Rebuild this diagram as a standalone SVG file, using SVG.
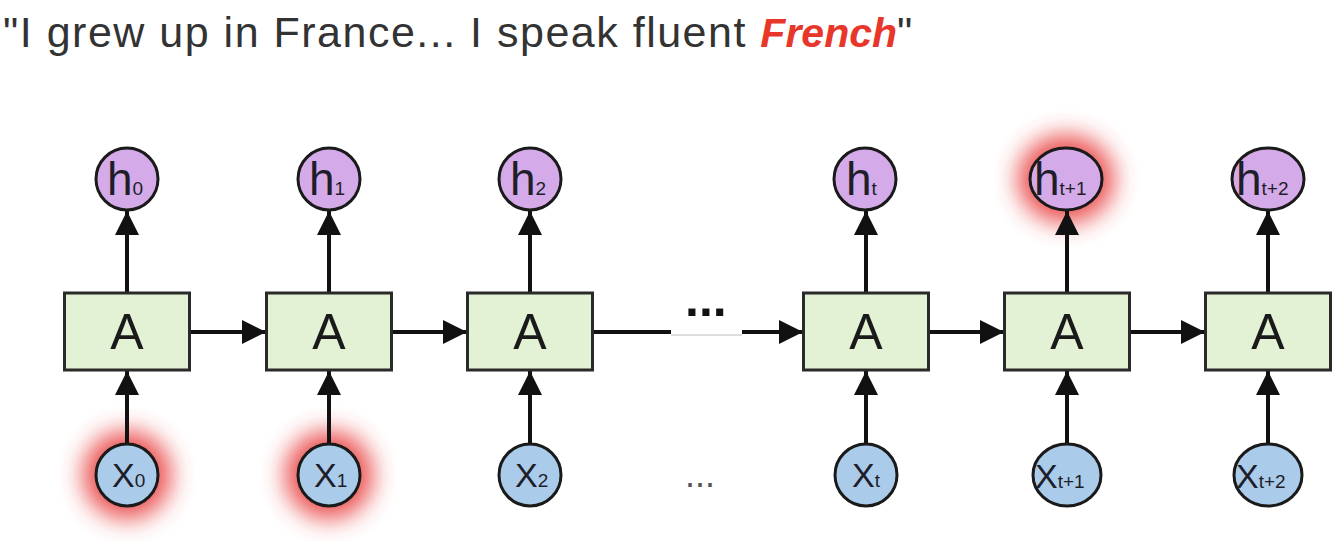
<svg xmlns="http://www.w3.org/2000/svg" width="1344" height="542" viewBox="0 0 1344 542">
<style>
.box{fill:#e3f1d4;stroke:#2a2a2a;stroke-width:3}
.hc{fill:#d4aae9;stroke:#1a1a1a;stroke-width:3}
.xc{fill:#aacbea;stroke:#1a1a1a;stroke-width:3}
.lbl{font-family:"Liberation Sans",Arial,sans-serif;fill:#1e1e2a}
.big{font-size:46px}
.sub{font-size:19px}
.A{font-family:"Liberation Sans",Arial,sans-serif;font-size:50px;fill:#1a1a1a;text-anchor:middle}
.ln{stroke:#111;stroke-width:4;fill:none}
.glow{fill:#e83a3a;filter:url(#blur);opacity:0.9}
</style>
<defs>
<filter id="blur" x="-80%" y="-80%" width="260%" height="260%"><feGaussianBlur stdDeviation="12"/></filter>
<marker id="ah" viewBox="0 0 10 10" refX="10" refY="5" markerWidth="6" markerHeight="6" markerUnits="strokeWidth" orient="auto"><path d="M0,0 L10,5 L0,10 Z" fill="#111"/></marker>
</defs>
<rect width="1344" height="542" fill="#fff"/>
<text x="3" y="47" font-family="'Liberation Sans',Arial,sans-serif" font-size="43" fill="#333" letter-spacing="1.5">"I grew up in France... I speak fluent <tspan fill="#e8372a" font-weight="bold" font-style="italic" font-size="41" letter-spacing="0">French</tspan><tspan letter-spacing="0">"</tspan></text>
<g id="glows">
<circle class="glow" cx="127" cy="475" r="44"/>
<circle class="glow" cx="329" cy="475" r="44"/>
<ellipse class="glow" cx="1066" cy="179" rx="48" ry="44"/>
</g>
<g id="connectors">
<line class="ln" x1="127" y1="293" x2="127" y2="211" marker-end="url(#ah)"/>
<line class="ln" x1="329" y1="293" x2="329" y2="211" marker-end="url(#ah)"/>
<line class="ln" x1="530" y1="293" x2="530" y2="211" marker-end="url(#ah)"/>
<line class="ln" x1="866" y1="293" x2="866" y2="211" marker-end="url(#ah)"/>
<line class="ln" x1="1067" y1="293" x2="1067" y2="211" marker-end="url(#ah)"/>
<line class="ln" x1="1268" y1="293" x2="1268" y2="211" marker-end="url(#ah)"/>
<line class="ln" x1="127" y1="444" x2="127" y2="371" marker-end="url(#ah)"/>
<line class="ln" x1="329" y1="444" x2="329" y2="371" marker-end="url(#ah)"/>
<line class="ln" x1="530" y1="444" x2="530" y2="371" marker-end="url(#ah)"/>
<line class="ln" x1="866" y1="444" x2="866" y2="371" marker-end="url(#ah)"/>
<line class="ln" x1="1067" y1="444" x2="1067" y2="371" marker-end="url(#ah)"/>
<line class="ln" x1="1268" y1="444" x2="1268" y2="371" marker-end="url(#ah)"/>
<line class="ln" x1="190" y1="332" x2="266" y2="332" marker-end="url(#ah)"/>
<line class="ln" x1="392" y1="332" x2="467" y2="332" marker-end="url(#ah)"/>
<line class="ln" x1="593" y1="332" x2="671" y2="332"/>
<line x1="671" y1="335" x2="742" y2="335" stroke="#bbb" stroke-width="1"/>
<line class="ln" x1="742" y1="332" x2="803" y2="332" marker-end="url(#ah)"/>
<line class="ln" x1="929" y1="332" x2="1004" y2="332" marker-end="url(#ah)"/>
<line class="ln" x1="1130" y1="332" x2="1205" y2="332" marker-end="url(#ah)"/>
</g>
<text x="685" y="316" font-family="'Liberation Sans',Arial,sans-serif" font-size="50" font-weight="bold" fill="#111">...</text>
<text x="685" y="487" font-family="'Liberation Sans',Arial,sans-serif" font-size="36" fill="#555">...</text>
<g id="A0"><rect class="box" x="64.5" y="293" width="125" height="77"/><text class="A" x="127" y="349">A</text></g>
<g id="A1"><rect class="box" x="266.5" y="293" width="125" height="77"/><text class="A" x="329" y="349">A</text></g>
<g id="A2"><rect class="box" x="467.5" y="293" width="125" height="77"/><text class="A" x="530" y="349">A</text></g>
<g id="At"><rect class="box" x="803.5" y="293" width="125" height="77"/><text class="A" x="866" y="349">A</text></g>
<g id="At1"><rect class="box" x="1004.5" y="293" width="125" height="77"/><text class="A" x="1067" y="349">A</text></g>
<g id="At2"><rect class="box" x="1205.5" y="293" width="125" height="77"/><text class="A" x="1268" y="349">A</text></g>
<g id="h0"><circle class="hc" cx="127" cy="179" r="31"/><text class="lbl" x="107" y="195"><tspan class="big">h</tspan><tspan class="sub">0</tspan></text></g>
<g id="h1"><circle class="hc" cx="329" cy="179" r="31"/><text class="lbl" x="309" y="195"><tspan class="big">h</tspan><tspan class="sub">1</tspan></text></g>
<g id="h2"><circle class="hc" cx="530" cy="179" r="31"/><text class="lbl" x="510" y="195"><tspan class="big">h</tspan><tspan class="sub">2</tspan></text></g>
<g id="ht"><circle class="hc" cx="865" cy="179" r="31"/><text class="lbl" x="846" y="195"><tspan class="big">h</tspan><tspan class="sub">t</tspan></text></g>
<g id="ht1"><ellipse class="hc" cx="1066" cy="179" rx="36" ry="31"/><text class="lbl" x="1034" y="195"><tspan class="big">h</tspan><tspan class="sub">t+1</tspan></text></g>
<g id="ht2"><ellipse class="hc" cx="1268" cy="179" rx="36" ry="31"/><text class="lbl" x="1236" y="195"><tspan class="big">h</tspan><tspan class="sub">t+2</tspan></text></g>
<g id="x0"><circle class="xc" cx="127" cy="475" r="31"/><text class="lbl" x="112" y="487"><tspan style="font-size:34px">X</tspan><tspan class="sub">0</tspan></text></g>
<g id="x1"><circle class="xc" cx="329" cy="475" r="31"/><text class="lbl" x="314" y="487"><tspan style="font-size:34px">X</tspan><tspan class="sub">1</tspan></text></g>
<g id="x2"><circle class="xc" cx="530" cy="475" r="31"/><text class="lbl" x="515" y="487"><tspan style="font-size:34px">X</tspan><tspan class="sub">2</tspan></text></g>
<g id="xt"><circle class="xc" cx="866" cy="475" r="31"/><text class="lbl" x="852" y="487"><tspan style="font-size:34px">X</tspan><tspan class="sub">t</tspan></text></g>
<g id="xt1"><ellipse class="xc" cx="1067" cy="475" rx="34" ry="31"/><text class="lbl" x="1035" y="488"><tspan style="font-size:34px">X</tspan><tspan class="sub">t+1</tspan></text></g>
<g id="xt2"><ellipse class="xc" cx="1268" cy="475" rx="34" ry="31"/><text class="lbl" x="1236" y="488"><tspan style="font-size:34px">X</tspan><tspan class="sub">t+2</tspan></text></g>
</svg>
